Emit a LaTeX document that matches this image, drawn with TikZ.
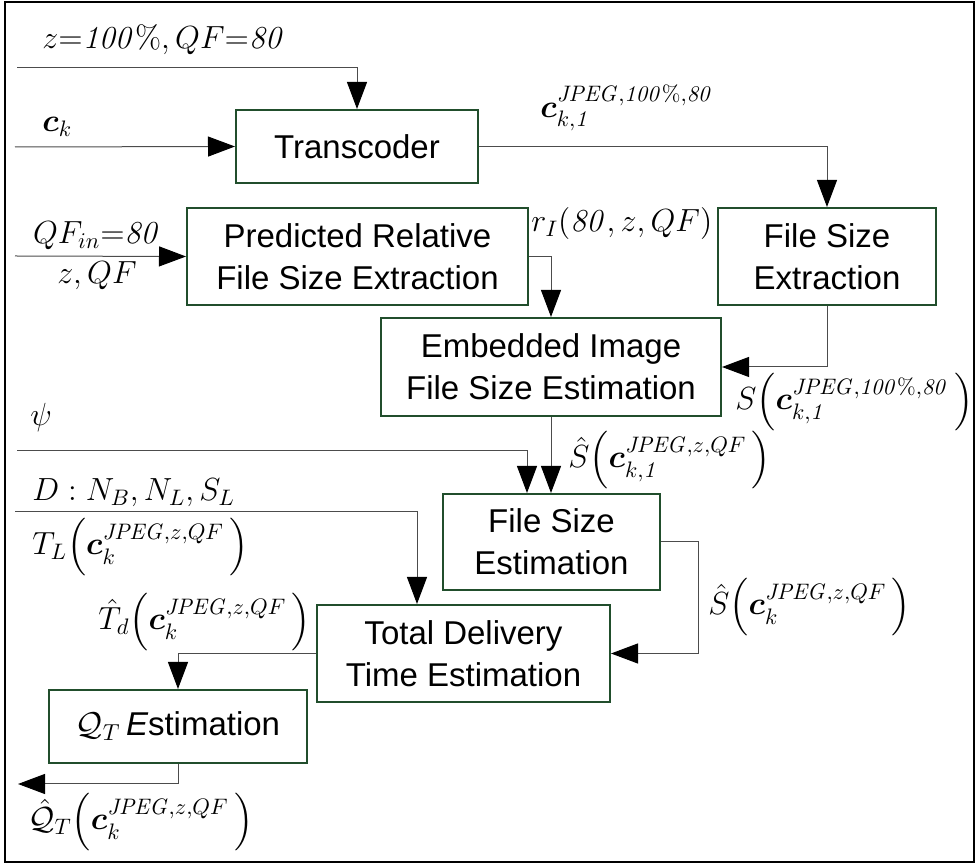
\documentclass[tikz,border=0pt]{standalone}
\usepackage{fix-cm}
\usepackage{amsmath,amssymb}
\usepackage[no-math]{fontspec}
\newfontfamily\arialfont{Liberation Sans}
\usepackage{tikz}
\usetikzlibrary{positioning,arrows.meta}
\definecolor{boxgreen}{RGB}{33,78,44}
\tikzstyle{block} = [rectangle, draw=boxgreen, line width=1pt, align=center, inner sep=0pt, font=\arialfont\fontsize{16.5}{21}\selectfont]
\tikzstyle{line} = [draw=black!70, line width=0.5pt]
\tikzstyle{arrow} = [line, -{Triangle[length=13.5pt,width=10pt,color=black]}]
\tikzstyle{lbl} = [inner sep=0pt, anchor=west, font=\fontsize{16}{19}\selectfont]
\newcommand{\cvec}{\boldsymbol{c}}

\begin{document}
\begin{tikzpicture}[x=0.5pt, y=-0.5pt]
		\useasboundingbox (0,0) rectangle (976,865);
		\draw[line width=0.6pt] (5,2) rectangle (974,862);
		\node[block, minimum width=121pt, minimum height=36.5pt] (trans) at (357,146.5) {Transcoder};
		\node[block, minimum width=170.5pt, minimum height=48.5pt] (pred) at (357.5,256.5) {Predicted Relative\\File Size Extraction};
		\node[block, minimum width=109pt, minimum height=48.5pt] (fsx) at (827,256.5) {File Size\\Extraction};
		\node[block, minimum width=170pt, minimum height=49pt] (emb) at (551,367) {Embedded Image\\File Size Estimation};
		\node[block, minimum width=108.5pt, minimum height=48pt] (fse) at (551.5,542) {File Size\\Estimation};
		\node[block, minimum width=146.5pt, minimum height=48.5pt] (tdt) at (463.5,653.5) {Total Delivery\\Time Estimation};
		\node[block, minimum width=129pt, minimum height=36.5pt] (qte) at (178,726.5) {$\mathcal{Q}_{T}$\,{\itshape E}stimation};
		\coordinate (zin) at (17,68);
		\coordinate (ckin) at (15,147);
		\coordinate (qfin) at (15,256);
		\coordinate (psiin) at (17,451);
		\coordinate (din) at (15,512);
		\coordinate (qtout) at (18,784);
		\node[lbl] (lz) at (42,40) {$z{=}\mathit{100\%},QF{=}\mathit{80}$};
		\node[lbl] (lck) at (42,127) {$\cvec_{k}$};
		\node[lbl] (lcj) at (540,108) {$\cvec_{k,\mathit{1}}^{\mathit{JPEG},\mathit{100\%},\mathit{80}}$};
		\node[lbl, anchor=center] (lqf) at (97,236) {$QF_{in}{=}\mathit{80}$};
		\node[lbl, anchor=center] (lzq) at (97,276) {$z,QF$};
		\node[lbl] (lr) at (531,224) {$r_{I}(\mathit{80},z,QF)$};
		\node[lbl] (ls) at (735,402) {$S\!\left(\cvec_{k,\mathit{1}}^{\mathit{JPEG},\mathit{100\%},\mathit{80}}\,\right)$};
		\node[lbl] (lsh) at (568,460) {$\hat{S}\!\left(\cvec_{k,\mathit{1}}^{\mathit{JPEG},z,QF}\,\right)$};
		\node[lbl] (lpsi) at (30,418) {$\psi$};
		\node[lbl] (ld) at (32,493) {$D:N_{B},N_{L},S_{L}$};
		\node[lbl] (ltl) at (32,547) {$T_{L}\!\left(\cvec_{k}^{\mathit{JPEG},z,QF}\,\right)$};
		\node[lbl] (ltd) at (98,622) {$\hat{T}_{d}\!\left(\cvec_{k}^{\mathit{JPEG},z,QF}\,\right)$};
		\node[lbl] (lsk) at (708,607) {$\hat{S}\!\left(\cvec_{k}^{\mathit{JPEG},z,QF}\,\right)$};
		\node[lbl] (lq) at (28,822) {$\hat{\mathcal{Q}}_{T}\!\left(\cvec_{k}^{\mathit{JPEG},z,QF}\,\right)$};
		\draw[arrow] (zin) -| (trans.north);
		\draw[arrow] (ckin) -- (trans.west);
		\draw[arrow] (trans.east) -| (fsx.north);
		\draw[arrow] (qfin) -- (pred.west);
		\draw[arrow] (pred.east) -| (emb.north);
		\draw[arrow] (fsx.south) |- (emb.east);
		\draw[arrow] (emb.south) -- (emb.south |- fse.north);
		\draw[arrow] (psiin) -| ([xshift=-12.25pt]fse.north);
		\draw[arrow] (din) -| ([xshift=-23.25pt]tdt.north);
		\draw[arrow] (fse.east) -- ++(18.5pt,0) |- (tdt.east);
		\draw[arrow] (tdt.west) -| (qte.north);
		\draw[arrow] (qte.south) |- (qtout);
	\end{tikzpicture}
\end{document}
